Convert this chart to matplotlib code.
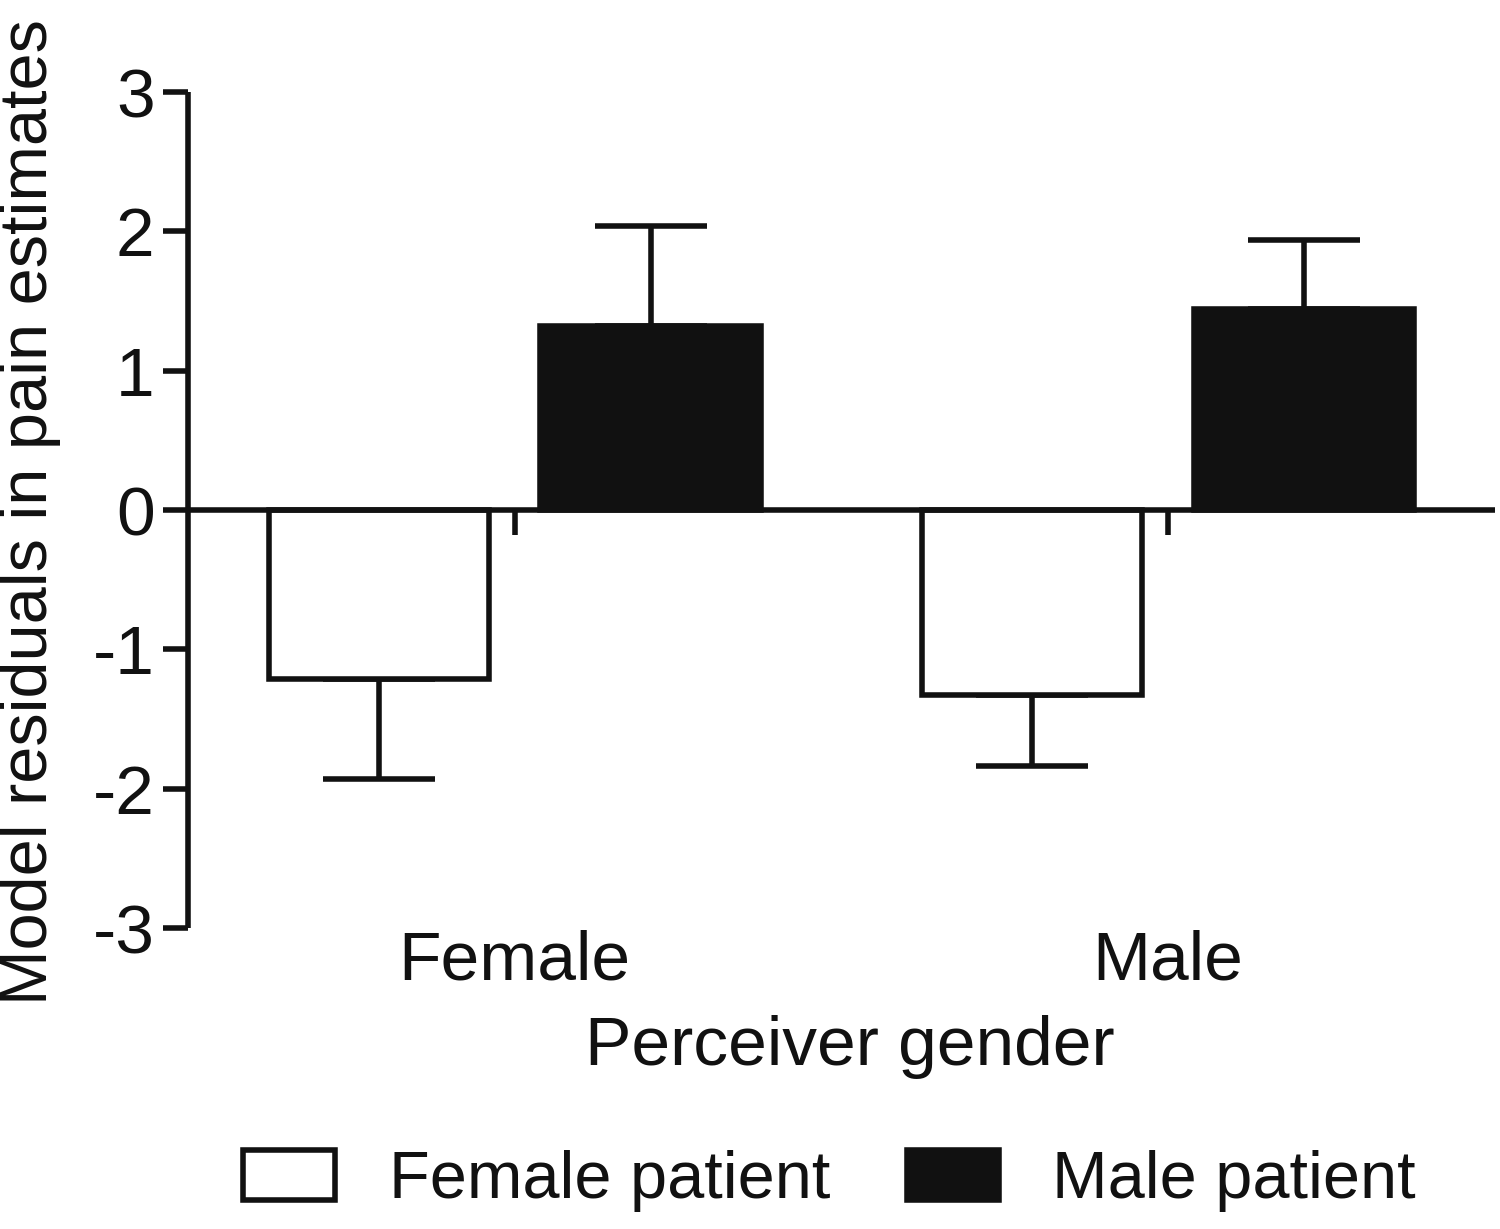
import numpy as np
import matplotlib
matplotlib.use("Agg")
import matplotlib.pyplot as plt

# === Data ===
perceiver = ["Female", "Male"]
patient = ["Female patient", "Male patient"]
female_patient_mean = [-1.21, -1.33]
female_patient_err = [0.72, 0.51]
male_patient_mean = [1.32, 1.44]
male_patient_err = [0.72, 0.50]
yticks = [-3, -2, -1, 0, 1, 2, 3]

# === Style ===
plt.rcParams["font.family"] = ["Liberation Sans", "DejaVu Sans"]
FS = 50
LW = 4.0
BAR_W = 0.337
OFFSET = 0.208

fig = plt.figure(figsize=(15, 12.29), dpi=100)
ax = fig.add_axes([0.1253, 0.2449, 0.8713, 0.6802])

x = np.arange(len(perceiver))

ax.bar(x - OFFSET, female_patient_mean, BAR_W, color="white", edgecolor="#111111",
       linewidth=LW, label=patient[0], zorder=3)
ax.bar(x + OFFSET, male_patient_mean, BAR_W, color="#111111", edgecolor="#111111",
       linewidth=LW, label=patient[1], zorder=3)

# one-sided error bars (away from zero)
ax.errorbar(x - OFFSET, female_patient_mean,
            yerr=[female_patient_err, np.zeros(len(x))],
            fmt="none", ecolor="#111111", elinewidth=LW, capsize=40, capthick=LW, zorder=2)
ax.errorbar(x + OFFSET, male_patient_mean,
            yerr=[np.zeros(len(x)), male_patient_err],
            fmt="none", ecolor="#111111", elinewidth=LW, capsize=40, capthick=LW, zorder=2)

ax.set_xlim(-0.5, 1.5)
ax.set_ylim(-3, 3)

for s in ["top", "right"]:
    ax.spines[s].set_visible(False)
ax.spines["bottom"].set_position(("data", 0))
ax.spines["bottom"].set_zorder(4)
for s in ["left", "bottom"]:
    ax.spines[s].set_linewidth(LW)
    ax.spines[s].set_color("#111111")
    ax.spines[s].set_capstyle("butt")

ax.set_yticks(yticks)
ax.set_yticklabels([str(v) for v in yticks])
ax.set_xticks(x)
ax.set_xticklabels(perceiver)
ax.tick_params(axis="both", color="#111111", labelcolor="#111111")
ax.tick_params(axis="y", direction="out", length=18, width=LW, labelsize=FS, pad=6)
ax.tick_params(axis="x", direction="out", length=18, width=LW, labelsize=FS, pad=284)
for lbl in ax.get_xticklabels():
    lbl.set_x(lbl.get_position()[0])
ax.get_xticklabels()[0].set_horizontalalignment("center")

ax.set_ylabel("Model residuals in pain estimates", fontsize=48, color="#111111")
ax.yaxis.set_label_coords(-0.097, 0.4976)
ax.set_xlabel("Perceiver gender", fontsize=FS, color="#111111")
ax.xaxis.set_label_coords(0.5065, -0.104)

leg = fig.legend(loc="center", bbox_to_anchor=(0.553, 0.039), ncol=2, frameon=False,
                 fontsize=48, handlelength=1.38, handleheight=0.78, handletextpad=0.8,
                 columnspacing=1.15, borderpad=0, labelcolor="#111111")

fig.savefig("out.png", dpi=100)
